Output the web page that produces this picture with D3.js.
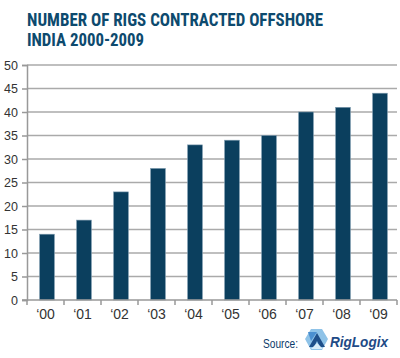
<!DOCTYPE html>
<html><head><meta charset="utf-8">
<script src="https://cdn.jsdelivr.net/npm/d3@7"></script>
<style>body{margin:0;background:#fff}svg{display:block}</style>
</head><body>
<script>
const categories = ["‘00","‘01","‘02","‘03","‘04","‘05","‘06","‘07","‘08","‘09"];
const values = [14,17,23,28,33,34,35,40,41,44];
const yTicks = [0,5,10,15,20,25,30,35,40,45,50];
const titleLines = ["NUMBER OF RIGS CONTRACTED OFFSHORE","INDIA 2000-2009"];

const W=400,H=358;
const svg=d3.select("body").append("svg").attr("width",W).attr("height",H);
const x=d3.scaleBand().domain(categories).range([27,397]).paddingInner(0.6).paddingOuter(0.3);
const y=d3.scaleLinear().domain([0,50]).range([300,65]);

// title
const tf='"Liberation Sans Narrow","Arial Narrow","Roboto Condensed","Liberation Sans",sans-serif';
svg.append("text").attr("x",27).attr("y",26).text(titleLines[0])
  .attr("font-family",tf).attr("font-weight","bold").attr("font-size",18).attr("fill","#0d4a6e")
  .attr("textLength",296).attr("lengthAdjust","spacingAndGlyphs");
svg.append("text").attr("x",27).attr("y",46).text(titleLines[1])
  .attr("font-family",tf).attr("font-weight","bold").attr("font-size",18).attr("fill","#0d4a6e")
  .attr("textLength",117).attr("lengthAdjust","spacingAndGlyphs");

// gridlines
svg.append("g").selectAll("line").data(yTicks.filter(d=>d>0)).join("line")
  .attr("x1",27).attr("x2",397).attr("y1",d=>y(d)).attr("y2",d=>y(d))
  .attr("stroke","#aaa").attr("stroke-width",1.5);

// y axis
const ya=svg.append("g").attr("transform","translate(27,0)")
  .call(d3.axisLeft(y).tickValues(yTicks).tickSize(5).tickPadding(4));
ya.select(".domain").attr("stroke","#999").attr("stroke-width",1.5);
ya.selectAll(".tick line").attr("stroke","#999").attr("stroke-width",1.5);
ya.selectAll("text").attr("font-family",'"Liberation Sans",Arial,sans-serif')
  .attr("font-size",12.5).attr("fill","#333");

// bars
svg.append("g").selectAll("rect").data(values).join("rect")
  .attr("x",(d,i)=>x(categories[i])+1.5).attr("width",x.bandwidth())
  .attr("y",d=>y(d)).attr("height",d=>y(0)-y(d))
  .attr("fill","#0b3f5e").attr("stroke","#7f9cb0").attr("stroke-width",0.6);

// x axis
const xa=svg.append("g").attr("transform","translate(0,300)");
xa.append("line").attr("x1",22).attr("x2",397).attr("y1",0).attr("y2",0).attr("stroke","#999").attr("stroke-width",1.5);
const tickXs=d3.range(categories.length+1).map(i=>27+i*37);
xa.selectAll("line.t").data(tickXs).join("line").attr("class","t")
  .attr("x1",d=>d).attr("x2",d=>d).attr("y1",0).attr("y2",5).attr("stroke","#999").attr("stroke-width",1.5);
xa.selectAll("text").data(categories).join("text")
  .attr("x",(d,i)=>27+i*37+18.5).attr("y",19).attr("text-anchor","middle")
  .attr("font-family",'"Liberation Sans Narrow","Liberation Sans",Arial,sans-serif')
  .attr("font-size",14).attr("fill","#333").text(d=>d);

// source
svg.append("text").attr("x",263).attr("y",348).text("Source:")
  .attr("font-family",'"Liberation Sans Narrow","Liberation Sans",Arial,sans-serif')
  .attr("font-size",13).attr("fill","#0d3a6a").attr("textLength",35).attr("lengthAdjust","spacingAndGlyphs");
const lg=svg.append("g").attr("transform","translate(305,329)");
lg.append("path").attr("d","M6,0 L17,0 L23,10 L17,21 L6,21 L0,10 Z").attr("fill","#8fc3e8");
lg.append("path").attr("d","M3,3 L12,3 L6,12 Z").attr("fill","#4a8fd0");
lg.append("path").attr("d","M12,4 L20,18 L15,18 L12,12 L9,18 L4,18 Z").attr("fill","#1e4f8a");
lg.append("path").attr("d","M6,20 L18,20 L12,14 Z").attr("fill","#d8ecf8");
svg.append("text").attr("x",330).attr("y",347).text("RigLogix")
  .attr("font-family",'"Liberation Sans",Arial,sans-serif').attr("font-weight","bold").attr("font-style","italic")
  .attr("font-size",15).attr("fill","#1e4a86").attr("textLength",58).attr("lengthAdjust","spacingAndGlyphs");
</script>
</body></html>
